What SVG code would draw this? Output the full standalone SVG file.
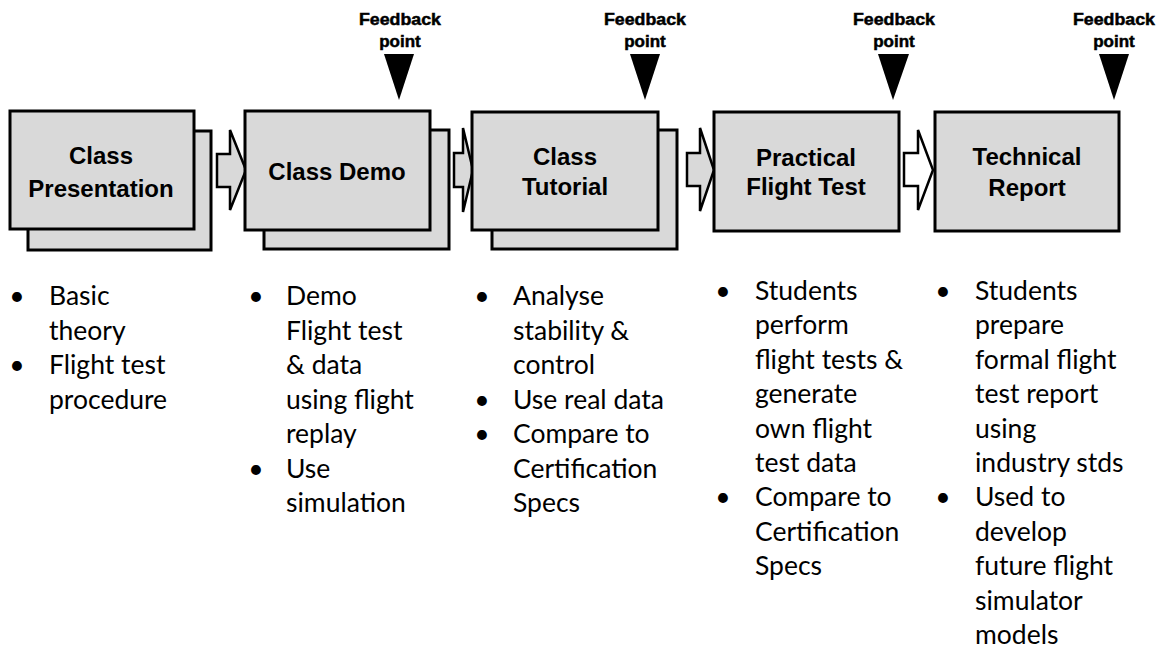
<svg xmlns="http://www.w3.org/2000/svg" width="1164" height="653" viewBox="0 0 1164 653">
<style>
.box{fill:#d9d9d9;stroke:#000;stroke-width:3}
.arr{fill:#d9d9d9;stroke:#000;stroke-width:2.5;stroke-linejoin:miter}
.arrw{fill:#fff;stroke:#000;stroke-width:2.5;stroke-linejoin:miter}
.lbl{font-family:"Liberation Sans",Arial,sans-serif;font-weight:bold;font-size:24px;fill:#000;text-anchor:middle}
.fb{font-family:"Liberation Sans",Arial,sans-serif;font-weight:bold;font-size:17px;fill:#000;text-anchor:middle;stroke:#000;stroke-width:0.5}
.tri{fill:#000}
.bt{font-family:Lato,"Open Sans",sans-serif;font-size:26.5px;fill:#000}
.bu{font-family:Lato,"Open Sans",sans-serif;font-size:26.5px;fill:#000;text-anchor:middle}
</style>
<rect width="1164" height="653" fill="#fff"/>

<g id="connectors">
<polygon class="arr" points="217,154 230,154 230,130 246,170 230,210 230,187 217,187"/>
<polygon class="arr" points="454,153 463,153 463,128 473,170 463,212 463,187 454,187"/>
<polygon class="arr" points="687,153 700,153 700,128 714,170 700,211 700,186 687,186"/>
<polygon class="arrw" points="904,153 918,153 918,130 933,170 918,210 918,186 904,186"/>
</g>

<g id="node-class-presentation">
<rect class="box" x="28" y="131" width="183" height="119"/>
<rect class="box" x="10" y="111" width="184" height="118"/>
<text class="lbl" x="101" y="164">Class</text>
<text class="lbl" x="101" y="197">Presentation</text>
</g>

<g id="node-class-demo">
<rect class="box" x="264" y="130" width="185" height="119"/>
<rect class="box" x="245" y="111" width="185" height="119"/>
<text class="lbl" x="337" y="180">Class Demo</text>
</g>

<g id="node-class-tutorial">
<rect class="box" x="492" y="130" width="185" height="119"/>
<rect class="box" x="472" y="112" width="186" height="118"/>
<text class="lbl" x="565" y="165">Class</text>
<text class="lbl" x="565" y="195">Tutorial</text>
</g>

<g id="node-practical-flight-test">
<rect class="box" x="714" y="112" width="185" height="119"/>
<text class="lbl" x="806" y="166">Practical</text>
<text class="lbl" x="806" y="195">Flight Test</text>
</g>

<g id="node-technical-report">
<rect class="box" x="935" y="112" width="184" height="119"/>
<text class="lbl" x="1027" y="165">Technical</text>
<text class="lbl" x="1027" y="196">Report</text>
</g>

<g id="feedback-1">
<text class="fb" x="400" y="25" textLength="82" lengthAdjust="spacingAndGlyphs">Feedback</text>
<text class="fb" x="400" y="47">point</text>
<polygon class="tri" points="384,54 414,54 399,100"/>
</g>
<g id="feedback-2">
<text class="fb" x="645" y="25" textLength="82" lengthAdjust="spacingAndGlyphs">Feedback</text>
<text class="fb" x="645" y="47">point</text>
<polygon class="tri" points="630,54 660,54 645,100"/>
</g>
<g id="feedback-3">
<text class="fb" x="894" y="25" textLength="82" lengthAdjust="spacingAndGlyphs">Feedback</text>
<text class="fb" x="894" y="47">point</text>
<polygon class="tri" points="878,54 909,54 893,100"/>
</g>
<g id="feedback-4">
<text class="fb" x="1114" y="25" textLength="82" lengthAdjust="spacingAndGlyphs">Feedback</text>
<text class="fb" x="1114" y="47">point</text>
<polygon class="tri" points="1099,54 1129,54 1114,100"/>
</g>

<g id="notes-presentation">
<text class="bu" x="17" y="305">•</text>
<text class="bu" x="17" y="374">•</text>
<text class="bt" y="305"><tspan x="49">Basic</tspan><tspan x="49" dy="34.5">theory</tspan><tspan x="49" dy="34.5">Flight test</tspan><tspan x="49" dy="34.5">procedure</tspan></text>
</g>

<g id="notes-demo">
<text class="bu" x="256" y="305">•</text>
<text class="bu" x="256" y="477.5">•</text>
<text class="bt" y="305"><tspan x="286">Demo</tspan><tspan x="286" dy="34.5">Flight test</tspan><tspan x="286" dy="34.5">&amp; data</tspan><tspan x="286" dy="34.5">using flight</tspan><tspan x="286" dy="34.5">replay</tspan><tspan x="286" dy="34.5">Use</tspan><tspan x="286" dy="34.5">simulation</tspan></text>
</g>

<g id="notes-tutorial">
<text class="bu" x="482" y="305">•</text>
<text class="bu" x="482" y="408.5">•</text>
<text class="bu" x="482" y="443">•</text>
<text class="bt" y="305"><tspan x="513">Analyse</tspan><tspan x="513" dy="34.5">stability &amp;</tspan><tspan x="513" dy="34.5">control</tspan><tspan x="513" dy="34.5">Use real data</tspan><tspan x="513" dy="34.5">Compare to</tspan><tspan x="513" dy="34.5">Certification</tspan><tspan x="513" dy="34.5">Specs</tspan></text>
</g>

<g id="notes-flight-test">
<text class="bu" x="723" y="300">•</text>
<text class="bu" x="723" y="506.4">•</text>
<text class="bt" y="300"><tspan x="755">Students</tspan><tspan x="755" dy="34.4">perform</tspan><tspan x="755" dy="34.4">flight tests &amp;</tspan><tspan x="755" dy="34.4">generate</tspan><tspan x="755" dy="34.4">own flight</tspan><tspan x="755" dy="34.4">test data</tspan><tspan x="755" dy="34.4">Compare to</tspan><tspan x="755" dy="34.4">Certification</tspan><tspan x="755" dy="34.4">Specs</tspan></text>
</g>

<g id="notes-report">
<text class="bu" x="943" y="300">•</text>
<text class="bu" x="943" y="506.4">•</text>
<text class="bt" y="300"><tspan x="975">Students</tspan><tspan x="975" dy="34.4">prepare</tspan><tspan x="975" dy="34.4">formal flight</tspan><tspan x="975" dy="34.4">test report</tspan><tspan x="975" dy="34.4">using</tspan><tspan x="975" dy="34.4">industry stds</tspan><tspan x="975" dy="34.4">Used to</tspan><tspan x="975" dy="34.4">develop</tspan><tspan x="975" dy="34.4">future flight</tspan><tspan x="975" dy="34.4">simulator</tspan><tspan x="975" dy="34.4">models</tspan></text>
</g>
</svg>
